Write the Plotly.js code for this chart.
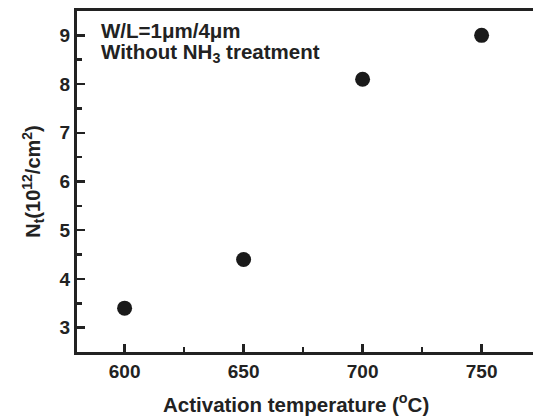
<!DOCTYPE html>
<html>
<head>
<meta charset="utf-8">
<script src="https://cdn.plot.ly/plotly-3.0.1.min.js"></script>
<style>
html,body{margin:0;padding:0;overflow:hidden;background:#fff;width:533px;height:416px;}
#chart{width:560px;height:416px;}
</style>
</head>
<body>
<div id="chart"></div>
<script>
var temperatures = [600, 650, 700, 750];
var ntValues = [3.4, 4.4, 8.1, 9.0];
var xTickVals = [600, 650, 700, 750];
var yTickVals = [3, 4, 5, 6, 7, 8, 9];

var FAM = 'Liberation Sans, Arial, sans-serif';
function bf(sz){ return {family: FAM, size: sz, color: '#222', weight: 'bold'}; }

var trace = {
  x: temperatures,
  y: ntValues,
  mode: 'markers',
  type: 'scatter',
  marker: {size: 15, color: '#1a1a1a'},
  hoverinfo: 'x+y'
};

var layout = {
  width: 560,
  height: 416,
  margin: {l: 77, r: 7, t: 11, b: 64},
  paper_bgcolor: '#fff',
  plot_bgcolor: '#fff',
  showlegend: false,
  font: bf(17),
  xaxis: {
    range: [580, 780],
    tickvals: xTickVals,
    ticks: 'inside',
    ticklen: 8,
    tickwidth: 2.5,
    tickcolor: '#222',
    showline: true,
    linewidth: 3,
    linecolor: '#222',
    mirror: true,
    showgrid: false,
    zeroline: false,
    tickfont: bf(19),
    minor: {tickvals: [625, 675, 725], ticks: 'inside', ticklen: 5, tickwidth: 2.5, tickcolor: '#222', showgrid: false}
  },
  yaxis: {
    range: [2.5, 9.5],
    tickvals: yTickVals,
    ticks: 'inside',
    ticklen: 8,
    tickwidth: 2.5,
    tickcolor: '#222',
    showline: true,
    linewidth: 3,
    linecolor: '#222',
    mirror: false,
    showgrid: false,
    zeroline: false,
    tickfont: bf(19),
    minor: {tickvals: [3.5, 4.5, 5.5, 6.5, 7.5, 8.5], ticks: 'inside', ticklen: 5, tickwidth: 2.5, tickcolor: '#222', showgrid: false},
    title: {text: 'N<sub>t</sub>(10<sup>12</sup>/cm<sup>2</sup>)', font: bf(20), standoff: 14}
  },
  annotations: [
    {xref: 'paper', yref: 'paper', x: 0.046, y: 0.943, xanchor: 'left', yanchor: 'middle', showarrow: false,
     text: 'W/L=1μm/4μm', font: bf(20.5)},
    {xref: 'paper', yref: 'paper', x: 0.046, y: 0.878, xanchor: 'left', yanchor: 'middle', showarrow: false,
     text: 'Without NH<sub>3</sub> treatment', font: bf(20.5)},
    {xref: 'paper', yref: 'paper', x: 0.46, y: -0.15, xanchor: 'center', yanchor: 'middle', showarrow: false,
     text: 'Activation temperature (<sup>o</sup>C)', font: bf(20.5)}
  ]
};

Plotly.newPlot('chart', [trace], layout, {displayModeBar: false, staticPlot: true});
</script>
</body>
</html>
